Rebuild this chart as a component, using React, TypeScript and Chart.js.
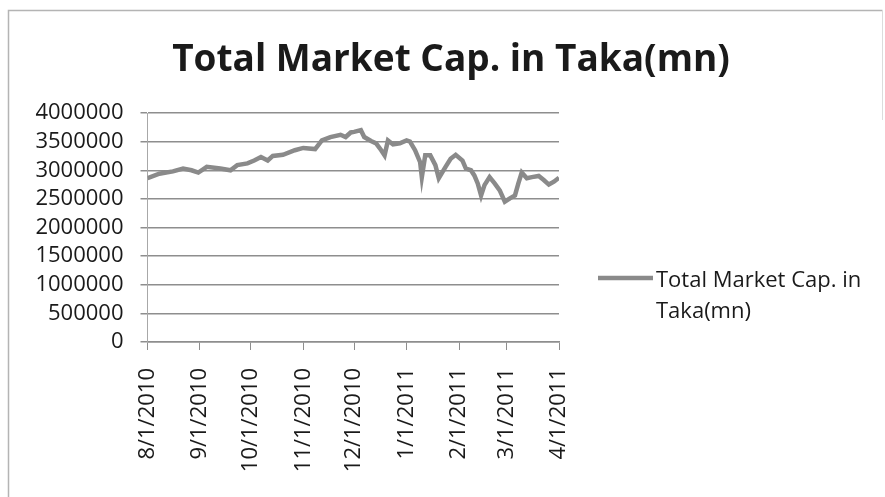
import { useEffect, useRef } from "react";
import { Chart, registerables } from "chart.js";

Chart.register(...registerables);

const TITLE = "Total Market Cap. in Taka(mn)";
const SERIES_NAME_LINES = ["Total Market Cap. in", "Taka(mn)"];
const START_DATE = "2010-08-01";
const END_DATE = "2011-04-01";

const TICK_DATES = [
  "2010-08-01", "2010-09-01", "2010-10-01", "2010-11-01", "2010-12-01",
  "2011-01-01", "2011-02-01", "2011-03-01", "2011-04-01",
];
const TICK_LABELS = [
  "8/1/2010", "9/1/2010", "10/1/2010", "11/1/2010", "12/1/2010",
  "1/1/2011", "2/1/2011", "3/1/2011", "4/1/2011",
];

const Y_TICKS = [0, 500000, 1000000, 1500000, 2000000, 2500000, 3000000, 3500000, 4000000];

const DATES = [
  "2010-08-01", "2010-08-08", "2010-08-16", "2010-08-22", "2010-08-27", "2010-08-31",
  "2010-09-05", "2010-09-13", "2010-09-19", "2010-09-23", "2010-09-29",
  "2010-10-03", "2010-10-07", "2010-10-11", "2010-10-14", "2010-10-20", "2010-10-27",
  "2010-11-01", "2010-11-08", "2010-11-12", "2010-11-17", "2010-11-23", "2010-11-26", "2010-11-29",
  "2010-12-01", "2010-12-05", "2010-12-07", "2010-12-11", "2010-12-14", "2010-12-17",
  "2010-12-19", "2010-12-21", "2010-12-24", "2010-12-28",
  "2011-01-01", "2011-01-03", "2011-01-06", "2011-01-09", "2011-01-10", "2011-01-12",
  "2011-01-15", "2011-01-18", "2011-01-20", "2011-01-24", "2011-01-27", "2011-01-30",
  "2011-02-03", "2011-02-05", "2011-02-08", "2011-02-10", "2011-02-12", "2011-02-14",
  "2011-02-16", "2011-02-19", "2011-02-22", "2011-02-25", "2011-02-28",
  "2011-03-03", "2011-03-06", "2011-03-08", "2011-03-10", "2011-03-13", "2011-03-16",
  "2011-03-20", "2011-03-23", "2011-03-26", "2011-03-29", "2011-04-01",
];
const VALUES = [
  2860000, 2940000, 2980000, 3030000, 3000000, 2960000,
  3060000, 3030000, 3000000, 3090000, 3120000,
  3170000, 3230000, 3170000, 3250000, 3270000, 3350000,
  3390000, 3370000, 3520000, 3580000, 3620000, 3580000, 3660000,
  3670000, 3700000, 3580000, 3510000, 3470000, 3350000,
  3260000, 3520000, 3450000, 3470000,
  3520000, 3500000, 3350000, 3140000, 2880000, 3260000,
  3260000, 3090000, 2860000, 3060000, 3200000, 3270000,
  3170000, 3030000, 3000000, 2910000, 2770000, 2560000,
  2740000, 2880000, 2770000, 2650000, 2450000,
  2510000, 2560000, 2770000, 2960000, 2860000, 2880000,
  2900000, 2830000, 2750000, 2800000, 2870000,
];

const DAY_MS = 86400000;
const dayOf = (d: string) => (Date.parse(d) - Date.parse(START_DATE)) / DAY_MS;
const TICK_DAYS = TICK_DATES.map(dayOf);

const FONT_FAMILY = "'Open Sans', 'Noto Sans', sans-serif";
const TEXT_COLOR = "#1a1a1a";
const GRID_COLOR = "#8e8e8e";
const LINE_COLOR = "#8a8a8a";
const FRAME_COLOR = "#b4b4b4";

const decorPlugin = {
  id: "decor",
  beforeDraw(chart: any) {
    const { ctx, width, height } = chart;
    ctx.save();
    ctx.fillStyle = "#ffffff";
    ctx.fillRect(0, 0, width, height);
    ctx.strokeStyle = FRAME_COLOR;
    ctx.lineWidth = 1.5;
    ctx.beginPath();
    ctx.moveTo(8.5, height);
    ctx.lineTo(8.5, 10.5);
    ctx.lineTo(882.5, 10.5);
    ctx.stroke();
    ctx.strokeStyle = "#dcdcdc";
    ctx.lineWidth = 1;
    ctx.beginPath();
    ctx.moveTo(882.5, 10.5);
    ctx.lineTo(882.5, 120);
    ctx.stroke();
    ctx.restore();
  },
  afterDraw(chart: any) {
    const { ctx } = chart;
    ctx.save();
    // title
    ctx.fillStyle = TEXT_COLOR;
    ctx.font = `bold 37px ${FONT_FAMILY}`;
    ctx.textAlign = "center";
    ctx.textBaseline = "alphabetic";
    ctx.fillText(TITLE, 451, 71);
    // legend
    ctx.strokeStyle = LINE_COLOR;
    ctx.lineWidth = 4.5;
    ctx.beginPath();
    ctx.moveTo(598, 278);
    ctx.lineTo(653, 278);
    ctx.stroke();
    ctx.font = `22px ${FONT_FAMILY}`;
    ctx.textAlign = "left";
    ctx.fillStyle = TEXT_COLOR;
    SERIES_NAME_LINES.forEach((line, i) => {
      ctx.fillText(line, 656, 287 + i * 31);
    });
    ctx.restore();
  },
};

export default function App() {
  const canvasRef = useRef<HTMLCanvasElement | null>(null);

  useEffect(() => {
    const canvas = canvasRef.current;
    if (!canvas) return;
    const chart = new Chart(canvas, {
      type: "line",
      data: {
        datasets: [
          {
            label: SERIES_NAME_LINES.join(" "),
            data: DATES.map((d, i) => ({ x: dayOf(d), y: VALUES[i] })),
            borderColor: LINE_COLOR,
            borderWidth: 4.5,
            pointRadius: 0,
            tension: 0,
            fill: false,
          },
        ],
      },
      options: {
        responsive: false,
        animation: false,
        devicePixelRatio: 1,
        layout: { padding: { left: 0, top: 113, right: 326, bottom: 0 } },
        plugins: {
          legend: { display: false },
          title: { display: false },
          tooltip: { enabled: false },
        },
        scales: {
          x: {
            type: "linear",
            min: 0,
            max: dayOf(END_DATE),
            afterBuildTicks: (scale: any) => {
              scale.ticks = TICK_DAYS.map((v) => ({ value: v }));
            },
            afterFit: (scale: any) => {
              scale.height = 155;
            },
            ticks: {
              autoSkip: false,
              minRotation: 90,
              maxRotation: 90,
              padding: 18,
              color: TEXT_COLOR,
              font: { family: FONT_FAMILY, size: 22 },
              callback: (value: any) => {
                const idx = TICK_DAYS.indexOf(Number(value));
                return idx >= 0 ? TICK_LABELS[idx] : "";
              },
            },
            grid: {
              drawOnChartArea: false,
              drawTicks: true,
              tickLength: 8,
              color: GRID_COLOR,
              lineWidth: 1,
            },
            border: { display: true, color: GRID_COLOR, width: 1.5 },
          },
          y: {
            type: "linear",
            min: Y_TICKS[0],
            max: Y_TICKS[Y_TICKS.length - 1],
            afterBuildTicks: (scale: any) => {
              scale.ticks = Y_TICKS.map((v) => ({ value: v }));
            },
            afterFit: (scale: any) => {
              scale.width = 147.5;
            },
            ticks: {
              autoSkip: false,
              padding: 17,
              color: TEXT_COLOR,
              font: { family: FONT_FAMILY, size: 22 },
              callback: (value: any) => String(value),
            },
            grid: {
              color: GRID_COLOR,
              lineWidth: 1.5,
              tickLength: 7,
            },
            border: { display: true, color: "#a8a8a8", width: 1 },
          },
        },
      },
      plugins: [decorPlugin],
    });
    return () => chart.destroy();
  }, []);

  return (
    <div style={{ position: "absolute", left: 0, top: 0, width: 885, height: 497 }}>
      <canvas ref={canvasRef} width={885} height={497} style={{ display: "block" }} />
    </div>
  );
}
